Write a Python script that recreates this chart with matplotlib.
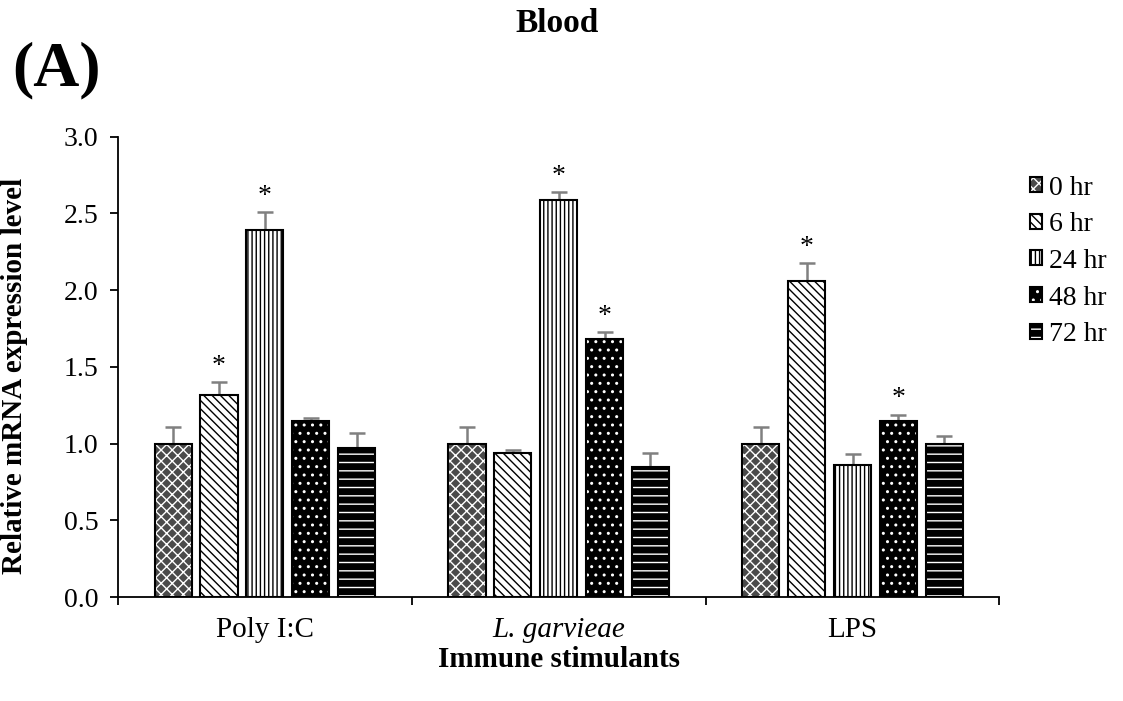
import matplotlib
matplotlib.use("Agg")
import matplotlib.pyplot as plt
import numpy as np

plt.rcParams['font.family'] = ['Liberation Serif', 'DejaVu Serif']
plt.rcParams['hatch.linewidth'] = 1.0

# Relative expression per stimulant (rows) and time point (columns)
stimulants = ["Poly I:C", "L. garvieae", "LPS"]
times = ["0 hr", "6 hr", "24 hr", "48 hr", "72 hr"]
poly_ic = [1.00, 1.32, 2.39, 1.15, 0.97]
l_garvieae = [1.00, 0.94, 2.59, 1.68, 0.85]
lps = [1.00, 2.06, 0.86, 1.15, 1.00]
poly_ic_err = [0.11, 0.08, 0.12, 0.02, 0.10]
l_garvieae_err = [0.11, 0.02, 0.05, 0.05, 0.09]
lps_err = [0.11, 0.12, 0.07, 0.04, 0.05]
# significance markers (True -> asterisk)
poly_ic_sig = [False, True, True, False, False]
l_garvieae_sig = [False, False, True, True, False]
lps_sig = [False, True, False, True, False]

values = np.array([poly_ic, l_garvieae, lps])
errors = np.array([poly_ic_err, l_garvieae_err, lps_err])
sig = np.array([poly_ic_sig, l_garvieae_sig, lps_sig])

# face colour, hatch, hatch colour for each time point
styles = [
    ("#4a4a4a", "xxx", "white"),
    ("white", "\\\\\\\\", "black"),
    ("white", "||||", "black"),
    ("black", "..", "white"),
    ("black", "--", "white"),
]

fig = plt.figure(figsize=(11.23, 7.01), dpi=100)
ax = fig.add_axes([0.105, 0.148, 0.785, 0.657])

x = np.arange(len(stimulants))
width = 0.126
step = 0.156
handles = []
for i, t in enumerate(times):
    pos = x + (i - 2) * step
    face, hatch, hcol = styles[i]
    fill = ax.bar(pos, values[:, i], width, color=face, edgecolor=hcol,
                  hatch=hatch, linewidth=0, zorder=2)
    outline = ax.bar(pos, values[:, i], width, fill=False, edgecolor="black",
                     linewidth=1.5, zorder=3)
    ax.errorbar(pos, values[:, i], yerr=[np.zeros(3), errors[:, i]],
                fmt="none", ecolor="#808080", elinewidth=1.8, capsize=6,
                capthick=1.8, zorder=1)
    for j in range(len(stimulants)):
        if sig[j, i]:
            ax.text(pos[j], values[j, i] + errors[j, i] + 0.02, "*",
                    ha="center", va="bottom", fontsize=20)
    handles.append((fill, outline))

ax.set_ylim(0, 3.0)
ax.set_xlim(-0.5, 2.5)
ax.set_yticks(np.arange(0, 3.01, 0.5))
ax.set_yticklabels([f"{v:.1f}" for v in np.arange(0, 3.01, 0.5)])
ax.set_xticks([-0.5, 0.5, 1.5, 2.5])
ax.set_xticklabels([])
ax.set_xticks(x, minor=True)
ax.set_xticklabels(stimulants, minor=True)
for lbl in ax.get_xticklabels(minor=True):
    if lbl.get_text() == "L. garvieae":
        lbl.set_style("italic")
ax.tick_params(axis="x", which="minor", length=0, pad=14, labelsize=21)
ax.tick_params(axis="x", which="major", length=6, width=1.3, direction="out")
ax.tick_params(axis="y", length=6, width=1.3, labelsize=20, pad=8)
ax.spines["top"].set_visible(False)
ax.spines["right"].set_visible(False)
ax.spines["left"].set_linewidth(1.3)
ax.spines["bottom"].set_linewidth(1.3)

ax.set_ylabel("Relative mRNA expression level", fontsize=21,
              fontweight="bold")
ax.yaxis.set_label_coords(-0.102, 0.48)
ax.set_xlabel("Immune stimulants", fontsize=21, fontweight="bold")
ax.xaxis.set_label_coords(0.5, -0.105)

leg = ax.legend(handles, times, loc="upper left", bbox_to_anchor=(1.006, 0.97),
                frameon=False, fontsize=20, handlelength=0.45,
                handleheight=0.45, handletextpad=0.25, labelspacing=0.42)

fig.text(0.496, 0.967, "Blood", ha="center", va="center", fontsize=24,
         fontweight="bold")
fig.text(0.011, 0.9, "(A)", ha="left", va="center", fontsize=46,
         fontweight="bold")

fig.savefig("out.png", dpi=100)
